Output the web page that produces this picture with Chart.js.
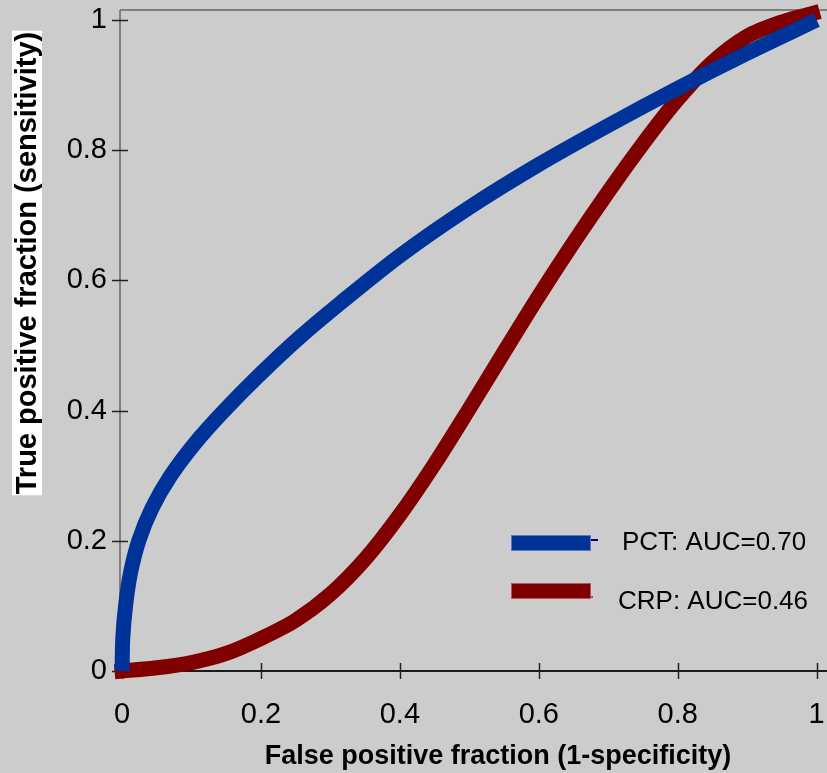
<!DOCTYPE html>
<html lang="en">
<head>
  <meta charset="UTF-8">
  <title>ROC curves PCT vs CRP</title>
  <script src="https://cdn.jsdelivr.net/npm/chart.js"></script>
  <style>
    html, body {
      margin: 0;
      padding: 0;
      background: #cccccc;
    }
    canvas {
      display: block;
    }
  </style>
</head>
<body>
  <canvas id="rocChart" width="827" height="773"></canvas>

  <script>
    // values
    const xTicks = [0, 0.2, 0.4, 0.6, 0.8, 1];
    const yTicks = [0, 0.2, 0.4, 0.6, 0.8, 1];

    const seriesLabels = ["PCT: AUC=0.70", "CRP: AUC=0.46"];

    const pctFpf = [0, 0.001, 0.005, 0.012, 0.024, 0.043, 0.07, 0.105, 0.147, 0.196, 0.254, 0.314, 0.4, 0.5, 0.6, 0.7, 0.8, 0.9, 1];
    const pctTpf = [0, 0.05, 0.1, 0.15, 0.2, 0.25, 0.3, 0.35, 0.4, 0.453, 0.511, 0.565, 0.638, 0.712, 0.778, 0.838, 0.895, 0.949, 1];

    const crpFpf = [0, 0.05, 0.1, 0.15, 0.2, 0.25, 0.3, 0.35, 0.4, 0.45, 0.5, 0.55, 0.6, 0.65, 0.7, 0.75, 0.8, 0.85, 0.9, 0.95, 0.994];
    const crpTpf = [0, 0.005, 0.013, 0.027, 0.05, 0.078, 0.118, 0.172, 0.24, 0.318, 0.403, 0.49, 0.576, 0.658, 0.736, 0.81, 0.878, 0.935, 0.975, 0.997, 1.01];

    const toPoints = (xs, ys) => xs.map((v, i) => ({ x: v, y: ys[i] }));
    const fmt = v => (v === 0 ? "0" : v === 1 ? "1" : v.toFixed(1));
    const FONT = "'Liberation Sans', Arial, sans-serif";

    const decor = {
      id: "decor",
      beforeDraw(chart) {
        const ctx = chart.ctx;
        ctx.save();
        ctx.fillStyle = "#cccccc";
        ctx.fillRect(0, 0, chart.width, chart.height);
        ctx.restore();
      },
      beforeDatasetsDraw(chart) {
        const { ctx, chartArea: a, scales } = chart;
        const x = scales.x, y = scales.y;
        ctx.save();
        // top line and y axis line (grey)
        ctx.strokeStyle = "#808080";
        ctx.lineWidth = 2;
        ctx.beginPath();
        ctx.moveTo(a.left, a.top);
        ctx.lineTo(a.right, a.top);
        ctx.moveTo(a.left, a.top);
        ctx.lineTo(a.left, a.bottom);
        ctx.stroke();
        // x axis line (black)
        ctx.strokeStyle = "#1a1a1a";
        ctx.beginPath();
        ctx.moveTo(a.left, a.bottom);
        ctx.lineTo(a.right, a.bottom);
        ctx.stroke();
        // tick marks crossing the axes
        ctx.lineWidth = 1.5;
        ctx.strokeStyle = "#222";
        ctx.beginPath();
        yTicks.forEach(v => {
          const py = Math.round(y.getPixelForValue(v)) + 0.5;
          ctx.moveTo(a.left - 8, py);
          ctx.lineTo(a.left + 8, py);
        });
        xTicks.forEach(v => {
          const px = Math.round(x.getPixelForValue(v)) + 0.5;
          ctx.moveTo(px, a.bottom - 8);
          ctx.lineTo(px, a.bottom + 8);
        });
        ctx.stroke();
        ctx.restore();
      },
      afterDraw(chart) {
        const ctx = chart.ctx;
        ctx.save();
        // x axis title
        ctx.fillStyle = "#000";
        ctx.font = "bold 27px " + FONT;
        ctx.textAlign = "center";
        ctx.textBaseline = "middle";
        ctx.fillText("False positive fraction (1-specificity)", 498, 757);

        // y axis title, on a white box
        ctx.translate(27, 263);
        ctx.rotate(-Math.PI / 2);
        ctx.font = "bold 29px " + FONT;
        const t = "True positive fraction (sensitivity)";
        const w = ctx.measureText(t).width;
        ctx.fillStyle = "#ffffff";
        ctx.fillRect(-w / 2 - 1, -15, w + 2, 30);
        ctx.fillStyle = "#000";
        ctx.fillText(t, 0, 1);
        ctx.restore();

        // legend
        ctx.save();
        const rows = [
          { y: 543, tx: 622, ty: 543 },
          { y: 591, tx: 618, ty: 602 }
        ];
        chart.data.datasets.forEach((ds, i) => {
          const r = rows[i];
          ctx.fillStyle = ds.borderColor;
          ctx.fillRect(511, r.y - 8, 80, 16);
          ctx.strokeStyle = "rgba(255,255,255,0.35)";
          ctx.lineWidth = 1;
          ctx.strokeRect(511.5, r.y - 7.5, 79, 15);
          ctx.fillStyle = "#000";
          ctx.font = "26px " + FONT;
          ctx.textAlign = "left";
          ctx.textBaseline = "middle";
          ctx.fillText(ds.label, r.tx, r.ty);
        });
        ctx.fillStyle = "#000080";
        ctx.fillRect(591, 539, 7, 2);
        ctx.fillStyle = "#ff00ff";
        ctx.fillRect(591, 596, 2, 2);
        ctx.restore();
      }
    };

    new Chart(document.getElementById("rocChart"), {
      type: "scatter",
      data: {
        datasets: [
          {
            label: seriesLabels[0],
            data: toPoints(pctFpf, pctTpf),
            showLine: true,
            borderColor: "#003399",
            borderWidth: 15,
            borderCapStyle: "butt",
            tension: 0.3,
            pointRadius: 0,
            clip: false
          },
          {
            label: seriesLabels[1],
            data: toPoints(crpFpf, crpTpf),
            showLine: true,
            borderColor: "#800000",
            borderWidth: 15,
            borderCapStyle: "square",
            tension: 0.3,
            pointRadius: 0,
            clip: false
          }
        ]
      },
      options: {
        responsive: false,
        devicePixelRatio: 1,
        animation: false,
        layout: { padding: { left: 0, top: 10, right: 0, bottom: 0 } },
        plugins: {
          legend: { display: false },
          tooltip: { enabled: false }
        },
        scales: {
          x: {
            type: "linear",
            min: -0.003,
            max: 1.015,
            grid: { display: false },
            border: { display: false },
            afterBuildTicks: s => { s.ticks = xTicks.map(v => ({ value: v })); },
            afterFit: s => { s.height = 102; s.paddingLeft = 0; s.paddingRight = 0; },
            ticks: {
              color: "#000",
              padding: 19,
              font: { family: FONT, size: 29 },
              callback: v => fmt(v)
            }
          },
          y: {
            type: "linear",
            min: 0,
            max: 1.0154,
            grid: { display: false },
            border: { display: false },
            afterBuildTicks: s => { s.ticks = yTicks.map(v => ({ value: v })); },
            afterFit: s => { s.width = 120; s.paddingTop = 0; s.paddingBottom = 0; },
            ticks: {
              color: "#000",
              padding: 5,
              font: { family: FONT, size: 29 },
              callback: v => fmt(v)
            }
          }
        }
      },
      plugins: [decor]
    });
  </script>
</body>
</html>
